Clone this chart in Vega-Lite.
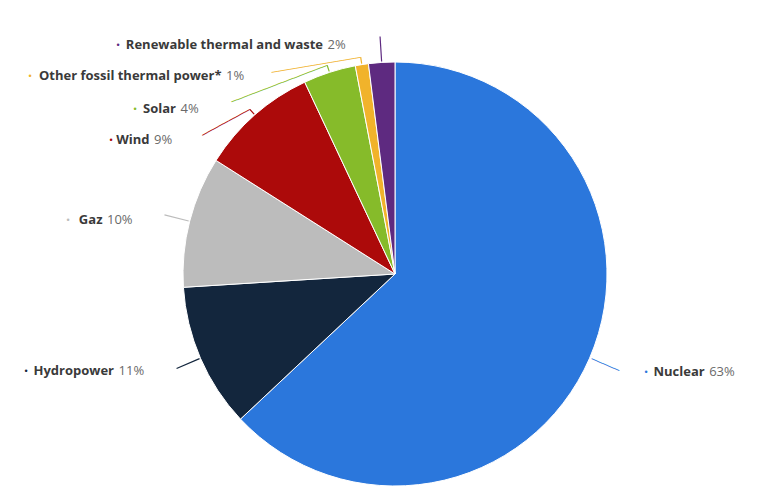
{
  "$schema": "https://vega.github.io/schema/vega-lite/v6.json",
  "width": 730,
  "height": 444,
  "autosize": "none",
  "padding": {"left": 30, "top": 52, "right": 0, "bottom": 0},
  "background": "white",
  "config": {"view": {"stroke": null}},
  "data": {
    "values": [
      {"name": "Nuclear", "value": 0.63, "idx": 1},
      {"name": "Hydropower", "value": 0.11, "idx": 2},
      {"name": "Gaz", "value": 0.10, "idx": 3},
      {"name": "Wind", "value": 0.09, "idx": 4},
      {"name": "Solar", "value": 0.04, "idx": 5},
      {"name": "Other fossil thermal power*", "value": 0.01, "idx": 6},
      {"name": "Renewable thermal and waste", "value": 0.02, "idx": 7}
    ]
  },
  "encoding": {
    "theta": {"field": "value", "type": "quantitative", "stack": true},
    "order": {"field": "idx", "type": "quantitative", "sort": "ascending"}
  },
  "layer": [
    {
      "mark": {"type": "arc", "outerRadius": 212, "stroke": "white", "strokeWidth": 1},
      "encoding": {
        "color": {"field": "name", "type": "nominal", "legend": null,
          "scale": {"domain": ["Nuclear", "Hydropower", "Gaz", "Wind", "Solar", "Other fossil thermal power*", "Renewable thermal and waste"],
                    "range": ["#2b77dc", "#13263d", "#bcbcbc", "#ac0a0a", "#86bb2a", "#f1b32b", "#5e2a80"]}}
      }
    },
    {
      "mark": {"type": "arc", "radius": 238, "radius2": 213, "padAngle": 3.14, "filled": false, "strokeWidth": 1.2},
      "encoding": {
        "color": {"field": "name", "type": "nominal", "legend": null},
        "strokeOpacity": {"condition": {"test": "indexof(['Hydropower','Gaz','Renewable thermal and waste'], datum.name) >= 0", "value": 1}, "value": 0}
      }
    },
    {
      "mark": {"type": "arc", "radius": 219.5, "radius2": 213, "padAngle": 3.14, "filled": false, "strokeWidth": 1.2},
      "encoding": {
        "color": {"field": "name", "type": "nominal", "legend": null},
        "strokeOpacity": {"condition": {"test": "indexof(['Wind','Solar','Other fossil thermal power*'], datum.name) >= 0", "value": 1}, "value": 0}
      }
    },
    {"mark": {"type": "text", "radius": 214, "angle": 23.4, "align": "left", "baseline": "middle", "font": "DejaVu Sans", "fontSize": 10},
     "encoding": {"text": {"condition": {"test": "datum.name === 'Nuclear'", "value": "─────"}, "value": ""}, "color": {"field": "name", "type": "nominal", "legend": null}}},
    {"mark": {"type": "text", "radius": 219, "angle": -28.4, "align": "right", "baseline": "middle", "font": "DejaVu Sans", "fontSize": 10},
     "encoding": {"text": {"condition": {"test": "datum.name === 'Wind'", "value": "─────────"}, "value": ""}, "color": {"field": "name", "type": "nominal", "legend": null}}},
    {"mark": {"type": "text", "radius": 219, "angle": -20.9, "align": "right", "baseline": "middle", "font": "DejaVu Sans", "fontSize": 10},
     "encoding": {"text": {"condition": {"test": "datum.name === 'Solar'", "value": "─────────────────"}, "value": ""}, "color": {"field": "name", "type": "nominal", "legend": null}}},
    {"mark": {"type": "text", "radius": 219, "angle": -9.6, "align": "right", "baseline": "middle", "font": "DejaVu Sans", "fontSize": 10},
     "encoding": {"text": {"condition": {"test": "datum.name === 'Other fossil thermal power*'", "value": "───────────────"}, "value": ""}, "color": {"field": "name", "type": "nominal", "legend": null}}},

    {"mark": {"type": "text", "radius": 235, "dx": 35.3, "dy": 4.7, "align": "center", "baseline": "middle", "fontSize": 9},
     "encoding": {"text": {"condition": {"test": "datum.name === 'Nuclear'", "value": "•"}, "value": ""}, "color": {"field": "name", "type": "nominal", "legend": null}}},
    {"mark": {"type": "text", "radius": 235, "dx": 94, "dy": 4.7, "align": "right", "baseline": "middle", "font": "Open Sans", "fontSize": 13, "fontWeight": "bold", "color": "#3a3a3a"},
     "encoding": {"text": {"condition": {"test": "datum.name === 'Nuclear'", "field": "name", "type": "nominal"}, "value": ""}}},
    {"mark": {"type": "text", "radius": 235, "dx": 98.5, "dy": 4.7, "align": "left", "baseline": "middle", "font": "Open Sans", "fontSize": 13, "color": "#6a6a6a"},
     "encoding": {"text": {"condition": {"test": "datum.name === 'Nuclear'", "field": "value", "type": "quantitative", "format": ".0%"}, "value": ""}}},

    {"mark": {"type": "text", "radius": 235, "dx": -153.3, "dy": 3.7, "align": "center", "baseline": "middle", "fontSize": 9},
     "encoding": {"text": {"condition": {"test": "datum.name === 'Hydropower'", "value": "•"}, "value": ""}, "color": {"field": "name", "type": "nominal", "legend": null}}},
    {"mark": {"type": "text", "radius": 235, "dx": -65.3, "dy": 3.7, "align": "right", "baseline": "middle", "font": "Open Sans", "fontSize": 13, "fontWeight": "bold", "color": "#3a3a3a"},
     "encoding": {"text": {"condition": {"test": "datum.name === 'Hydropower'", "field": "name", "type": "nominal"}, "value": ""}}},
    {"mark": {"type": "text", "radius": 235, "dx": -60.8, "dy": 3.7, "align": "left", "baseline": "middle", "font": "Open Sans", "fontSize": 13, "color": "#6a6a6a"},
     "encoding": {"text": {"condition": {"test": "datum.name === 'Hydropower'", "field": "value", "type": "quantitative", "format": ".0%"}, "value": ""}}},

    {"mark": {"type": "text", "radius": 235, "dx": -99.4, "dy": 4.4, "align": "center", "baseline": "middle", "fontSize": 9},
     "encoding": {"text": {"condition": {"test": "datum.name === 'Gaz'", "value": "•"}, "value": ""}, "color": {"field": "name", "type": "nominal", "legend": null}}},
    {"mark": {"type": "text", "radius": 235, "dx": -64.9, "dy": 4.4, "align": "right", "baseline": "middle", "font": "Open Sans", "fontSize": 13, "fontWeight": "bold", "color": "#3a3a3a"},
     "encoding": {"text": {"condition": {"test": "datum.name === 'Gaz'", "field": "name", "type": "nominal"}, "value": ""}}},
    {"mark": {"type": "text", "radius": 235, "dx": -60.4, "dy": 4.4, "align": "left", "baseline": "middle", "font": "Open Sans", "fontSize": 13, "color": "#6a6a6a"},
     "encoding": {"text": {"condition": {"test": "datum.name === 'Gaz'", "field": "value", "type": "quantitative", "format": ".0%"}, "value": ""}}},

    {"mark": {"type": "text", "radius": 235, "dx": -128.6, "dy": 42.3, "align": "center", "baseline": "middle", "fontSize": 9},
     "encoding": {"text": {"condition": {"test": "datum.name === 'Wind'", "value": "•"}, "value": ""}, "color": {"field": "name", "type": "nominal", "legend": null}}},
    {"mark": {"type": "text", "radius": 235, "dx": -90.1, "dy": 42.3, "align": "right", "baseline": "middle", "font": "Open Sans", "fontSize": 13, "fontWeight": "bold", "color": "#3a3a3a"},
     "encoding": {"text": {"condition": {"test": "datum.name === 'Wind'", "field": "name", "type": "nominal"}, "value": ""}}},
    {"mark": {"type": "text", "radius": 235, "dx": -85.6, "dy": 42.3, "align": "left", "baseline": "middle", "font": "Open Sans", "fontSize": 13, "color": "#6a6a6a"},
     "encoding": {"text": {"condition": {"test": "datum.name === 'Wind'", "field": "value", "type": "quantitative", "format": ".0%"}, "value": ""}}},

    {"mark": {"type": "text", "radius": 235, "dx": -187.4, "dy": 58.5, "align": "center", "baseline": "middle", "fontSize": 9},
     "encoding": {"text": {"condition": {"test": "datum.name === 'Solar'", "value": "•"}, "value": ""}, "color": {"field": "name", "type": "nominal", "legend": null}}},
    {"mark": {"type": "text", "radius": 235, "dx": -146.4, "dy": 58.5, "align": "right", "baseline": "middle", "font": "Open Sans", "fontSize": 13, "fontWeight": "bold", "color": "#3a3a3a"},
     "encoding": {"text": {"condition": {"test": "datum.name === 'Solar'", "field": "name", "type": "nominal"}, "value": ""}}},
    {"mark": {"type": "text", "radius": 235, "dx": -141.9, "dy": 58.5, "align": "left", "baseline": "middle", "font": "Open Sans", "fontSize": 13, "color": "#6a6a6a"},
     "encoding": {"text": {"condition": {"test": "datum.name === 'Solar'", "field": "value", "type": "quantitative", "format": ".0%"}, "value": ""}}},

    {"mark": {"type": "text", "radius": 235, "dx": -328.2, "dy": 34.1, "align": "center", "baseline": "middle", "fontSize": 9},
     "encoding": {"text": {"condition": {"test": "datum.name === 'Other fossil thermal power*'", "value": "•"}, "value": ""}, "color": {"field": "name", "type": "nominal", "legend": null}}},
    {"mark": {"type": "text", "radius": 235, "dx": -136.7, "dy": 34.1, "align": "right", "baseline": "middle", "font": "Open Sans", "fontSize": 13, "fontWeight": "bold", "color": "#3a3a3a"},
     "encoding": {"text": {"condition": {"test": "datum.name === 'Other fossil thermal power*'", "field": "name", "type": "nominal"}, "value": ""}}},
    {"mark": {"type": "text", "radius": 235, "dx": -132.2, "dy": 34.1, "align": "left", "baseline": "middle", "font": "Open Sans", "fontSize": 13, "color": "#6a6a6a"},
     "encoding": {"text": {"condition": {"test": "datum.name === 'Other fossil thermal power*'", "field": "value", "type": "quantitative", "format": ".0%"}, "value": ""}}},

    {"mark": {"type": "text", "radius": 235, "dx": -262.2, "dy": 5.5, "align": "center", "baseline": "middle", "fontSize": 9},
     "encoding": {"text": {"condition": {"test": "datum.name === 'Renewable thermal and waste'", "value": "•"}, "value": ""}, "color": {"field": "name", "type": "nominal", "legend": null}}},
    {"mark": {"type": "text", "radius": 235, "dx": -57.2, "dy": 5.5, "align": "right", "baseline": "middle", "font": "Open Sans", "fontSize": 13, "fontWeight": "bold", "color": "#3a3a3a"},
     "encoding": {"text": {"condition": {"test": "datum.name === 'Renewable thermal and waste'", "field": "name", "type": "nominal"}, "value": ""}}},
    {"mark": {"type": "text", "radius": 235, "dx": -52.7, "dy": 5.5, "align": "left", "baseline": "middle", "font": "Open Sans", "fontSize": 13, "color": "#6a6a6a"},
     "encoding": {"text": {"condition": {"test": "datum.name === 'Renewable thermal and waste'", "field": "value", "type": "quantitative", "format": ".0%"}, "value": ""}}}
  ]
}
